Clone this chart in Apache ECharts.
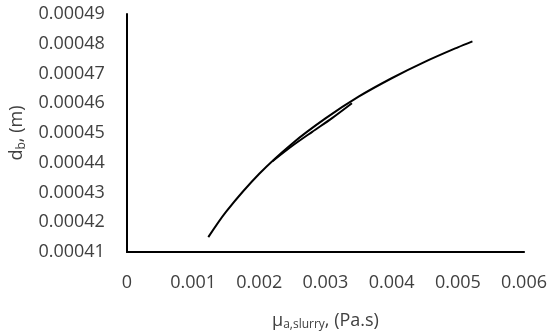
<!DOCTYPE html>
<html>
<head>
<meta charset="utf-8">
<script src="https://cdn.jsdelivr.net/npm/echarts@6/dist/echarts.min.js"></script>
<style>
  html, body { margin: 0; padding: 0; background: #fff; }
  #chart { width: 550px; height: 336px; }
</style>
</head>
<body>
<div id="chart"></div>
<script>
// viscosity (Pa.s) vs bubble diameter (m)
const muMain = [0.00123, 0.0015, 0.002, 0.0025, 0.003, 0.0035, 0.004, 0.0045, 0.005, 0.00522];
const dbMain = [0.000415, 0.0004236, 0.0004363, 0.0004465, 0.0004549, 0.0004622, 0.0004684, 0.0004739, 0.0004788, 0.0004808];

const muShort = [0.0022, 0.0025, 0.0028, 0.0031, 0.0034];
const dbShort = [0.0004405, 0.0004457, 0.0004504, 0.000455, 0.00046];

const font = '"Open Sans", "Liberation Sans", sans-serif';
const textColor = '#404040';

const chart = echarts.init(document.getElementById('chart'));

const pairs = (xs, ys) => xs.map((x, i) => [x, ys[i]]);

chart.setOption({
  animation: false,
  grid: { left: 125, right: 25, top: 14, bottom: 84 },
  xAxis: {
    type: 'value',
    min: 0,
    max: 0.006,
    interval: 0.001,
    name: 'μ{sub|a,slurry}, (Pa.s)',
    nameLocation: 'middle',
    nameGap: 58,
    nameTextStyle: {
      fontFamily: font, fontSize: 18, color: textColor,
      rich: { sub: { fontFamily: font, fontSize: 12, color: textColor, padding: [9, 0, 0, 0] } }
    },
    axisLine: { lineStyle: { color: '#000', width: 2 } },
    axisTick: { show: false },
    splitLine: { show: false },
    axisLabel: {
      margin: 22,
      fontFamily: font, fontSize: 18, color: textColor,
      formatter: v => v === 0 ? '0' : v.toFixed(3)
    }
  },
  yAxis: {
    type: 'value',
    min: 0.00041,
    max: 0.00049,
    interval: 0.00001,
    name: 'd{sub|b}, (m)',
    nameLocation: 'middle',
    nameGap: 98,
    nameTextStyle: {
      fontFamily: font, fontSize: 18, color: textColor,
      rich: { sub: { fontFamily: font, fontSize: 12, color: textColor, padding: [9, 0, 0, 0] } }
    },
    axisLine: { show: true, lineStyle: { color: '#000', width: 2 } },
    axisTick: { show: false },
    splitLine: { show: false },
    axisLabel: {
      margin: 22,
      fontFamily: font, fontSize: 18, color: textColor,
      formatter: v => v.toFixed(5)
    }
  },
  series: [
    {
      type: 'line',
      data: pairs(muMain, dbMain),
      smooth: 0.3,
      showSymbol: false,
      lineStyle: { color: '#000', width: 2 }
    },
    {
      type: 'line',
      data: pairs(muShort, dbShort),
      smooth: 0.3,
      showSymbol: false,
      lineStyle: { color: '#000', width: 2 }
    }
  ]
});
</script>
</body>
</html>
